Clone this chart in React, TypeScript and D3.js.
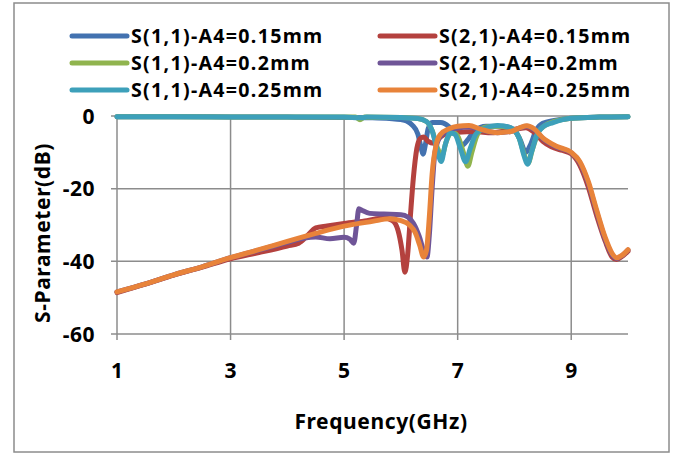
import * as d3 from "d3";
import React from "react";

// S-parameter curves, [frequency GHz, dB]
const s11_015: [number, number][] = [
  [1, -0.2], [2, -0.2], [3, -0.25], [4, -0.3], [5, -0.4], [5.5, -0.5], [5.8, -0.7],
  [6.0, -1.0], [6.1, -1.4], [6.2, -2.5], [6.3, -5], [6.36, -9], [6.39, -10.5],
  [6.43, -8], [6.48, -3.5], [6.55, -1.8], [6.7, -1.8], [6.85, -3], [6.98, -5.5],
  [7.08, -8], [7.18, -6.5], [7.3, -4], [7.5, -2.8], [7.8, -2.8], [8.0, -4],
  [8.1, -6.5], [8.2, -10], [8.28, -8], [8.38, -4], [8.5, -2], [8.7, -1.2],
  [9, -0.6], [9.5, -0.3], [10, -0.2],
];

const s21_015: [number, number][] = [
  [1, -48.6], [1.5, -46.3], [2, -43.8], [2.5, -41.6], [3, -39.3], [3.5, -37.6],
  [4, -35.8], [4.2, -35], [4.35, -33], [4.5, -30.8], [4.7, -30.3], [5, -29.6],
  [5.4, -28.8], [5.7, -28.1], [5.85, -28.8], [5.95, -31.5], [6.02, -37], [6.07, -43],
  [6.12, -38], [6.17, -27], [6.22, -17], [6.28, -9], [6.34, -6.2], [6.4, -5.8],
  [6.48, -7], [6.58, -7.5], [6.68, -6], [6.8, -4.8], [7, -4.5], [7.3, -4.3],
  [7.6, -4.6], [7.9, -4], [8.2, -3.2], [8.35, -4.5], [8.5, -7], [8.65, -8.5],
  [8.85, -9.5], [9, -10.4], [9.15, -13.5], [9.3, -19.5], [9.45, -27.5], [9.6, -34.5],
  [9.72, -38.8], [9.8, -39.5], [9.9, -38.6], [10, -37.2],
];

const s11_020: [number, number][] = [
  [1, -0.2], [3, -0.25], [5, -0.3], [5.2, -0.3], [5.28, -1], [5.36, -0.3],
  [6.0, -0.4], [6.3, -0.7], [6.45, -1.5], [6.55, -4], [6.65, -9], [6.72, -11],
  [6.8, -7], [6.9, -4.5], [7.0, -5.5], [7.1, -10], [7.18, -13.8], [7.25, -10],
  [7.35, -5], [7.5, -3], [7.7, -2.8], [7.95, -3.5], [8.08, -6], [8.18, -11],
  [8.24, -13], [8.32, -9], [8.42, -4.5], [8.55, -2.5], [8.7, -1.5], [9, -0.6],
  [9.5, -0.3], [10, -0.2],
];

const s21_020: [number, number][] = [
  [1, -48.4], [1.5, -46.2], [2, -43.7], [2.5, -41.5], [3, -39], [3.5, -36.9],
  [4, -34.8], [4.3, -33.6], [4.5, -33.3], [4.75, -33.8], [5.0, -33.4], [5.1, -33.9],
  [5.17, -35], [5.22, -30], [5.26, -25.5], [5.32, -26], [5.45, -26.8], [5.7, -27],
  [6.0, -27.2], [6.12, -27.8], [6.22, -29.5], [6.32, -33], [6.4, -37], [6.46, -38.8],
  [6.5, -33], [6.55, -20], [6.6, -10], [6.7, -5.5], [6.85, -4], [7, -3.3],
  [7.2, -3], [7.4, -3.8], [7.7, -4.6], [7.95, -4.2], [8.1, -3.3], [8.22, -2.8],
  [8.35, -3.8], [8.5, -6.2], [8.75, -8.6], [9, -10.1], [9.15, -12.8], [9.3, -18.5],
  [9.45, -26.5], [9.6, -34], [9.72, -38.2], [9.8, -39.2], [9.9, -38.4], [10, -36.9],
];

const s11_025: [number, number][] = [
  [1, -0.2], [3, -0.25], [5, -0.3], [5.3, -0.5], [5.4, -0.3], [6.0, -0.4],
  [6.3, -0.7], [6.45, -1.5], [6.55, -4], [6.65, -10], [6.71, -12.5], [6.78, -8],
  [6.87, -4.7], [6.95, -5], [7.05, -9], [7.14, -12.6], [7.22, -9], [7.32, -5],
  [7.45, -3.5], [7.7, -2.6], [7.93, -3.2], [8.08, -6], [8.17, -11], [8.23, -13.3],
  [8.3, -10], [8.4, -5], [8.5, -3], [8.68, -1.8], [9, -0.6], [9.5, -0.3], [10, -0.2],
];

const s21_025: [number, number][] = [
  [1, -48.4], [1.5, -46.2], [2, -43.7], [2.5, -41.5], [3, -39], [3.5, -36.8],
  [4, -34.5], [4.5, -32.3], [5, -30.3], [5.5, -29], [5.8, -28.3], [6.0, -28.8],
  [6.15, -30], [6.25, -32], [6.33, -35.5], [6.4, -38.8], [6.45, -37], [6.5, -28],
  [6.55, -16], [6.62, -8], [6.7, -5], [6.85, -3.5], [7.0, -2.8], [7.2, -2.6],
  [7.4, -3.6], [7.7, -4.6], [7.95, -4.2], [8.1, -3.2], [8.22, -2.7], [8.35, -3.6],
  [8.5, -6], [8.75, -8.4], [9.0, -10], [9.15, -12.5], [9.3, -18], [9.45, -26],
  [9.6, -33.5], [9.72, -37.8], [9.8, -39], [9.9, -38.3], [10, -36.8],
];

const seriesNames = [
  "S(1,1)-A4=0.15mm", "S(2,1)-A4=0.15mm",
  "S(1,1)-A4=0.2mm", "S(2,1)-A4=0.2mm",
  "S(1,1)-A4=0.25mm", "S(2,1)-A4=0.25mm",
];
const seriesData = [s11_015, s21_015, s11_020, s21_020, s11_025, s21_025];
const colors = ["#4372B0", "#B4413E", "#90B44E", "#6F5597", "#3DA0BA", "#E8833A"];

const xTicks = [1, 3, 5, 7, 9];
const yTicks = [0, -20, -40, -60];

export default function App() {
  const width = 686;
  const height = 455;
  const font = "'Noto Sans', sans-serif";

  const x = d3.scaleLinear().domain([1, 10]).range([117, 628]);
  const y = d3.scaleLinear().domain([-60, 0]).range([334, 116]);

  const line = d3
    .line<[number, number]>()
    .x((d) => x(d[0]))
    .y((d) => y(d[1]))
    .curve(d3.curveMonotoneX);

  const gridColor = "#8c8c8c";

  return (
    <svg
      width={width}
      height={height}
      style={{ position: "absolute", left: 0, top: 0, background: "#fff" }}
      fontFamily={font}
      fontWeight="bold"
    >
      {/* outer frame */}
      <rect x={14} y={3} width={655} height={449} fill="#fff" stroke="#8c8c8c" strokeWidth={1.5} />

      {/* grid */}
      <g stroke={gridColor} strokeWidth={1.5}>
        {yTicks.map((t) => (
          <line key={"gy" + t} x1={x(1) - 6} x2={x(10)} y1={y(t)} y2={y(t)} />
        ))}
        {xTicks.map((t) => (
          <line key={"gx" + t} x1={x(t)} x2={x(t)} y1={y(0)} y2={y(-60) + 6} />
        ))}
      </g>

      {/* y tick labels */}
      <g fontSize={21} fill="#000" textAnchor="end" letterSpacing={0.5}>
        {yTicks.map((t) => (
          <text key={"ty" + t} x={95} y={y(t)} dy="0.36em">
            {t}
          </text>
        ))}
      </g>
      {/* x tick labels */}
      <g fontSize={21} fill="#000" textAnchor="middle">
        {xTicks.map((t) => (
          <text key={"tx" + t} x={x(t)} y={378}>
            {t}
          </text>
        ))}
      </g>

      <text x={381} y={429} fontSize={21} letterSpacing={0.6} textAnchor="middle">
        Frequency(GHz)
      </text>
      <text
        transform="translate(50,233) rotate(-90)"
        fontSize={21}
        letterSpacing={0.6}
        textAnchor="middle"
      >
        S-Parameter(dB)
      </text>

      {/* curves */}
      <g fill="none" strokeWidth={5} strokeLinejoin="round" strokeLinecap="round">
        {seriesData.map((d, i) => (
          <path key={i} d={line(d) ?? ""} stroke={colors[i]} />
        ))}
      </g>

      {/* legend */}
      <g fontSize={19.6} letterSpacing={1.3}>
        {seriesNames.map((name, i) => {
          const col = i % 2;
          const row = Math.floor(i / 2);
          const lx = col === 0 ? 72 : 380;
          const ly = 36 + row * 27;
          return (
            <g key={name}>
              <line x1={lx} x2={lx + 55} y1={ly} y2={ly} stroke={colors[i]} strokeWidth={5} strokeLinecap="round" />
              <text x={lx + 59} y={ly} dy="0.35em" fill="#000">
                {name}
              </text>
            </g>
          );
        })}
      </g>
    </svg>
  );
}
